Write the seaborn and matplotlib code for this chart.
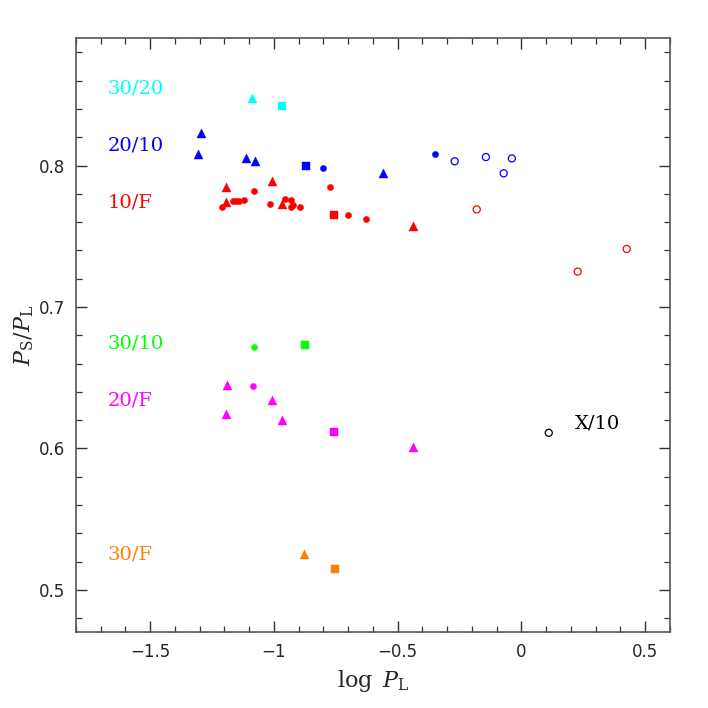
import numpy as np
import pandas as pd
import matplotlib
matplotlib.use("Agg")
import matplotlib.pyplot as plt
import seaborn as sns
from matplotlib.ticker import MultipleLocator

# ── Data (log P_L, P_S/P_L) ─────────────────────────────────
cyan_tri_x = [-1.089]
cyan_tri_y = [0.848]
cyan_sq_x = [-0.968]
cyan_sq_y = [0.842]

blue_tri_x = [-1.295, -1.307, -1.113, -1.077, -0.560]
blue_tri_y = [0.823, 0.808, 0.805, 0.803, 0.795]
blue_sq_x = [-0.871]
blue_sq_y = [0.800]
blue_dot_x = [-0.802, -0.350]
blue_dot_y = [0.798, 0.808]
blue_open_x = [-0.269, -0.143, -0.038, -0.071]
blue_open_y = [0.803, 0.806, 0.805, 0.7945]

red_tri_x = [-1.194, -1.008, -1.194, -0.968, -0.438]
red_tri_y = [0.785, 0.789, 0.774, 0.773, 0.757]
red_sq_x = [-0.758]
red_sq_y = [0.765]
red_dot_x = [-1.210, -1.166, -1.154, -1.141, -1.121, -1.081, -1.016, -0.956,
             -0.931, -0.923, -0.931, -0.895, -0.774, -0.701, -0.628]
red_dot_y = [0.771, 0.775, 0.775, 0.775, 0.7755, 0.782, 0.773, 0.776,
             0.7755, 0.772, 0.7705, 0.7705, 0.785, 0.765, 0.762]
red_open_x = [-0.180, 0.426, 0.228]
red_open_y = [0.769, 0.741, 0.725]

green_dot_x = [-1.081]
green_dot_y = [0.6715]
green_sq_x = [-0.875]
green_sq_y = [0.673]

mag_tri_x = [-1.190, -1.194, -1.008, -0.968, -0.438]
mag_tri_y = [0.645, 0.624, 0.634, 0.620, 0.601]
mag_dot_x = [-1.085]
mag_dot_y = [0.644]
mag_sq_x = [-0.758]
mag_sq_y = [0.6115]

orange_tri_x = [-0.879]
orange_tri_y = [0.525]
orange_sq_x = [-0.754]
orange_sq_y = [0.5145]

black_open_x = [0.111]
black_open_y = [0.611]

group_labels = ["30/20", "20/10", "10/F", "30/10", "20/F", "30/F"]
group_label_y = [0.8546, 0.8143, 0.774, 0.6743, 0.634, 0.525]
group_colors = ["#00ffff", "#0000ff", "#ff0000", "#00ff00", "#ff00ff", "#ff8000"]

# ── Figure ──────────────────────────────────────────────────
sns.set_style("ticks")
plt.rcParams["font.family"] = ["DejaVu Sans"]
plt.rcParams["mathtext.fontset"] = "dejavuserif"

fig = plt.figure(figsize=(7.08, 7.08), dpi=100)
ax = fig.add_axes([0.107, 0.107, 0.839, 0.839])


def filled(x, y, color, marker, size):
    sns.scatterplot(x=x, y=y, ax=ax, marker=marker, s=size, color=color,
                    edgecolor=color, linewidth=0.3, zorder=3)


def hollow(x, y, color):
    sns.scatterplot(x=x, y=y, ax=ax, marker="o", s=26, facecolor="none",
                    edgecolor=color, linewidth=0.9, zorder=3)


TRI, SQ, DOT = 42, 34, 20

filled(cyan_tri_x, cyan_tri_y, "#00ffff", "^", TRI)
filled(cyan_sq_x, cyan_sq_y, "#00ffff", "s", SQ)

filled(blue_tri_x, blue_tri_y, "#0000ff", "^", TRI)
filled(blue_sq_x, blue_sq_y, "#0000ff", "s", SQ)
filled(blue_dot_x, blue_dot_y, "#0000ff", "o", DOT)
hollow(blue_open_x, blue_open_y, "#0000ff")

filled(red_tri_x, red_tri_y, "#ff0000", "^", TRI)
filled(red_sq_x, red_sq_y, "#ff0000", "s", SQ)
filled(red_dot_x, red_dot_y, "#ff0000", "o", DOT)
hollow(red_open_x, red_open_y, "#ff0000")

filled(green_dot_x, green_dot_y, "#00ff00", "o", DOT)
filled(green_sq_x, green_sq_y, "#00ff00", "s", SQ)

filled(mag_tri_x, mag_tri_y, "#ff00ff", "^", TRI)
filled(mag_dot_x, mag_dot_y, "#ff00ff", "o", DOT)
filled(mag_sq_x, mag_sq_y, "#ff00ff", "s", SQ)

filled(orange_tri_x, orange_tri_y, "#ff8000", "^", TRI)
filled(orange_sq_x, orange_sq_y, "#ff8000", "s", SQ)

hollow(black_open_x, black_open_y, "black")

for lab, yy, c in zip(group_labels, group_label_y, group_colors):
    ax.text(-1.671, yy, lab, color=c, fontsize=14, family="DejaVu Serif",
            va="center", ha="left")
ax.text(0.216, 0.6178, "X/10", color="black", fontsize=14,
        family="DejaVu Serif", va="center", ha="left")

# ── Axes ────────────────────────────────────────────────────
ax.set_xlim(-1.8, 0.6)
ax.set_ylim(0.47, 0.89)
ax.xaxis.set_major_locator(MultipleLocator(0.5))
ax.xaxis.set_minor_locator(MultipleLocator(0.1))
ax.yaxis.set_major_locator(MultipleLocator(0.1))
ax.yaxis.set_minor_locator(MultipleLocator(0.02))
ax.set_xticks([-1.5, -1, -0.5, 0, 0.5])
ax.set_xticklabels(["\u22121.5", "\u22121", "\u22120.5", "0", "0.5"])
ax.set_yticks([0.5, 0.6, 0.7, 0.8])
ax.set_yticklabels(["0.5", "0.6", "0.7", "0.8"])

for sp in ax.spines.values():
    sp.set_visible(True)
    sp.set_color("#555555")
    sp.set_linewidth(1.2)
ax.tick_params(which="both", direction="in", top=True, right=True,
               color="#333333", labelsize=12, pad=8)
ax.tick_params(which="major", length=8, width=1.0)
ax.tick_params(which="minor", length=4, width=0.9)

ax.set_xlabel(r"$\log\ P_{\rm L}$", fontsize=16, labelpad=5)
ax.set_ylabel(r"$P_{\rm S}/P_{\rm L}$", fontsize=16, labelpad=2)

fig.savefig("out.png", dpi=100)
